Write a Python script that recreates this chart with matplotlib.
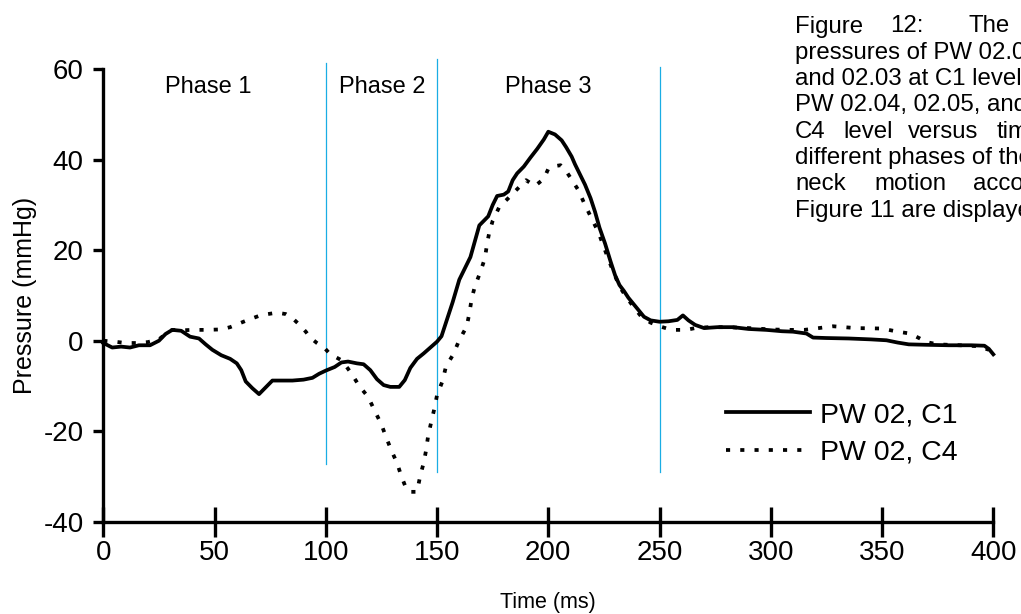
import matplotlib
matplotlib.use("Agg")
import matplotlib.pyplot as plt

plt.rcParams['font.family'] = ['Liberation Sans', 'DejaVu Sans']
plt.rcParams['axes.unicode_minus'] = False

# ---------------- data ----------------
t_c1 = [0, 4, 8, 12, 16, 21, 25, 28, 31, 35, 39, 43, 46, 49, 53, 57, 60, 62, 64, 67,
        70, 73, 76, 80, 85, 90, 94, 97, 100, 104, 107, 110, 114, 117, 120, 123, 126, 129,
        133, 135.5, 138, 141, 144, 147, 150, 152, 154, 157, 160, 163, 165, 167, 169, 171,
        173, 175, 177, 180, 182, 184, 186, 189, 192, 195, 198, 200, 203, 206, 208, 210.5,
        212, 214, 216.5, 219, 221, 223, 225.5, 228, 230, 232, 234, 236, 238, 240.5, 243,
        246, 250, 254, 258, 260.5, 263, 266, 270, 276, 283, 290, 298, 305, 310, 316, 319,
        325, 335, 345, 352, 357, 362, 370, 380, 390, 396, 398, 400]
p_c1 = [-0.5, -1.5, -1.3, -1.5, -1, -1, 0, 1.5, 2.4, 2.2, 0.9, 0.5, -0.8, -2, -3.2, -4,
        -5, -6.5, -9, -10.5, -11.8, -10.3, -8.8, -8.8, -8.8, -8.6, -8.2, -7.3, -6.6, -5.8,
        -4.8, -4.6, -5, -5.2, -6.5, -8.5, -9.8, -10.2, -10.2, -8.7, -6, -4, -2.8, -1.5,
        -0.2, 1, 4, 8.5, 13.5, 16.5, 18.5, 22, 25.5, 26.5, 27.5, 30, 32, 32.3, 33, 35.5,
        37, 38.5, 40.5, 42.4, 44.5, 46.2, 45.6, 44.3, 42.8, 40.7, 39, 37, 34.5, 31.5,
        28.5, 25, 21.5, 17.5, 14.5, 12.3, 11, 9.5, 8.3, 6.8, 5.3, 4.5, 4.2, 4.3, 4.6,
        5.6, 4.5, 3.5, 2.8, 3, 3, 2.6, 2.4, 2.1, 2, 1.6, 0.7, 0.6, 0.5, 0.3, 0.1, -0.4,
        -0.8, -0.9, -1, -1, -1.1, -1.8, -3]

t_c4 = [0, 5, 10, 15, 20, 25, 28, 31, 35, 40, 46, 53, 57, 60, 65, 70, 74, 78, 82, 85,
        88, 91, 93, 96, 99.6, 102, 104, 107, 110, 112.5, 115, 119, 122, 125, 127, 129.6,
        132, 134, 136, 137.5, 141, 142.5, 144, 145, 146, 147.5, 148.8, 150, 152.4, 154,
        157.3, 159.6, 161.5, 163.3, 164.5, 165.6, 167, 169.3, 171.5, 172.5, 173.5, 175,
        178, 182, 186, 190, 194, 198, 200, 203, 205.5, 208, 210, 213.5, 216.5, 219.5,
        222.5, 225.5, 229, 232, 235, 238, 242, 246, 250, 254, 257, 262, 266, 272, 280,
        290, 300, 308, 315, 320, 328, 338, 350, 357, 362.5, 367, 370, 375, 385, 393, 398]
p_c4 = [0, -0.2, -0.5, -0.5, -0.3, 0.3, 1.5, 2.4, 2.3, 2.4, 2.4, 2.5, 3, 3.6, 4.6, 5.5,
        5.9, 6.2, 5.9, 5, 3.6, 2, 0.7, -0.5, -1.7, -3, -3.5, -4.3, -6.2, -8, -10, -12.4,
        -15.5, -18.5, -21.2, -24.4, -27, -30, -32.5, -33.4, -33.4, -29.7, -27, -24.4, -21,
        -17.7, -15, -12, -9, -5.7, -3, -0.3, 1.5, 3.1, 6, 9.4, 12, 15, 18.2, 21.5, 24,
        26.5, 29.6, 31.5, 33.5, 35.5, 34.2, 35.8, 38, 38.6, 38.8, 37.5, 36, 33.3, 30, 27,
        24, 20, 15.5, 12, 9.7, 7.7, 5.2, 4, 3.2, 2.6, 2.4, 2.4, 2.8, 3, 3, 2.8, 2.5, 2.4,
        2.4, 2.7, 3.2, 2.8, 2.7, 2, 1.6, 0.5, -0.3, -0.8, -1, -1.2, -2]

series_labels = ['PW 02, C1', 'PW 02, C4']

phase_bounds = [100, 150, 250]
phase_tops = [61.4, 62.3, 60.5]
phase_bottoms = [-27.2, -29.0, -29.0]
phase_names = ['Phase 1', 'Phase 2', 'Phase 3']
phase_label_x = [47, 125.5, 200]
phase_label_y = 56

x_ticks = [0, 50, 100, 150, 200, 250, 300, 350, 400]
y_ticks = [-40, -20, 0, 20, 40, 60]

caption_lines = [
    [(795, 'Figure'), (890, '12:'), (968, 'The')],
    [(795, 'pressures of PW 02.01')],
    [(795, 'and 02.03 at C1 level')],
    [(795, 'PW 02.04, 02.05, and')],
    [(795, 'C4'), (843, 'level'), (908, 'versus'), (997, 'time')],
    [(795, 'different phases of the')],
    [(795, 'neck'), (874, 'motion'), (973, 'according')],
    [(795, 'Figure 11 are displayed')],
]

# ---------------- figure ----------------
W, H = 1021, 614
fig = plt.figure(figsize=(W / 100, H / 100), dpi=100)
ax = fig.add_axes([103.3 / W, 1 - 521.7 / H, (993.3 - 103.3) / W, (521.7 - 69.3) / H])

ax.set_xlim(0, 400)
ax.set_ylim(-40, 60)

blue = '#1AADE4'
for xb, yt, yb in zip(phase_bounds, phase_tops, phase_bottoms):
    ax.plot([xb, xb], [yb, yt], color=blue, lw=0.9, clip_on=False, zorder=1)

ax.plot(t_c4, p_c4, color='black', lw=2.7, linestyle=(0, (1.1, 2.7)),
        dash_capstyle='butt', label=series_labels[1], zorder=2, clip_on=False)
ax.plot(t_c1, p_c1, color='black', lw=2.7, linestyle='-',
        label=series_labels[0], zorder=3, clip_on=False)

for name, xl in zip(phase_names, phase_label_x):
    ax.text(xl, phase_label_y, name, ha='center', va='center', fontsize=17)

for s in ['top', 'right']:
    ax.spines[s].set_visible(False)
for s in ['left', 'bottom']:
    ax.spines[s].set_linewidth(2.4)

ax.set_xticks(x_ticks)
ax.set_yticks(y_ticks)
ax.tick_params(axis='x', direction='inout', length=22, width=2.4, labelsize=20, pad=2)
ax.tick_params(axis='y', direction='out', length=7, width=2.4, labelsize=20, pad=7)

ax.set_xlabel('Time (ms)', fontsize=15.5, labelpad=19)
ax.set_ylabel('Pressure (mmHg)', fontsize=18, labelpad=5)

handles, labels = ax.get_legend_handles_labels()
order = [1, 0]
leg = ax.legend([handles[i] for i in order], [labels[i] for i in order],
                loc='center left', bbox_to_anchor=(726 / W, 1 - 434 / H),
                bbox_transform=fig.transFigure, frameon=False, fontsize=20.5,
                handlelength=2.95, handletextpad=0.35, labelspacing=0.4,
                borderpad=0, borderaxespad=0)

for i, words in enumerate(caption_lines):
    yb = 32.5 + 26.3 * i
    for xw, w in words:
        fig.text(xw / W, 1 - yb / H, w, fontsize=17.3, ha='left', va='baseline')

fig.savefig('out.png', dpi=100)
